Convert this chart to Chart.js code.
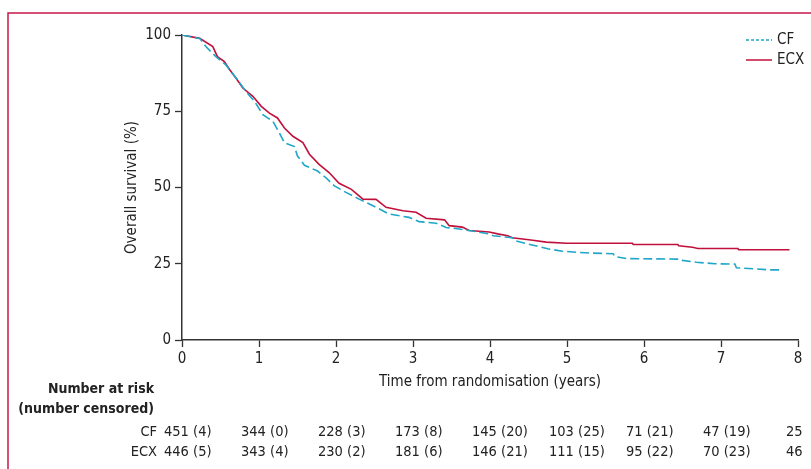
<!DOCTYPE html>
<html>
<head>
<meta charset="utf-8">
<script src="https://cdn.jsdelivr.net/npm/chart.js@4.4.1/dist/chart.umd.min.js"></script>
<style>
  html, body { margin: 0; padding: 0; background: #fff; }
  #wrap { position: relative; width: 811px; height: 469px; }
</style>
</head>
<body>
<div id="wrap"><canvas id="km-chart" width="811" height="469"></canvas></div>
<script>
// Kaplan-Meier curves (time in years, survival in %)
var cfTimes = [0, 0.23, 0.31, 0.44, 0.57, 0.72, 0.83, 0.94, 1.05, 1.18, 1.265, 1.33, 1.46, 1.50, 1.59, 1.76, 1.87, 1.98, 2.13, 2.30, 2.52, 2.69, 2.95, 3.08, 3.30, 3.43, 3.60, 3.73, 3.99, 4.04, 4.29, 4.32, 4.49, 4.75, 4.94, 5.29, 5.60, 5.62, 5.77, 6.48, 6.50, 6.68, 6.92, 7.18, 7.20, 7.63, 7.78];
var cfSurv  = [100, 98.9, 96.2, 92.9, 90.2, 85.3, 81.5, 78.3, 73.9, 71.7, 67.9, 64.7, 63.4, 60.3, 57.3, 55.4, 53.2, 50.5, 48.4, 46.2, 43.5, 41.3, 40.2, 38.8, 38.3, 36.9, 36.4, 35.9, 34.8, 34.2, 33.5, 32.6, 31.5, 29.9, 29.1, 28.5, 28.3, 27.4, 26.7, 26.5, 26.1, 25.5, 25.0, 24.9, 23.7, 23.0, 23.0];

var ecxTimes = [0, 0.23, 0.40, 0.46, 0.55, 0.62, 0.70, 0.79, 0.92, 1.03, 1.135, 1.24, 1.33, 1.44, 1.57, 1.655, 1.78, 1.91, 2.04, 2.20, 2.35, 2.52, 2.65, 2.87, 3.04, 3.17, 3.41, 3.47, 3.64, 3.73, 3.99, 4.10, 4.23, 4.29, 4.53, 4.73, 4.99, 5.85, 5.86, 6.44, 6.45, 6.63, 6.70, 7.22, 7.23, 7.89];
var ecxSurv  = [100, 98.9, 96.2, 92.9, 91.3, 88.6, 85.9, 82.6, 79.9, 76.6, 74.4, 72.8, 69.5, 66.8, 64.7, 60.9, 57.6, 54.9, 51.4, 49.4, 46.2, 46.1, 43.5, 42.4, 41.9, 39.9, 39.4, 37.5, 37.0, 35.9, 35.4, 34.8, 34.2, 33.5, 32.8, 32.1, 31.7, 31.7, 31.3, 31.3, 30.9, 30.4, 30.0, 30.0, 29.6, 29.6];

// Number at risk table
var riskYears = [0, 1, 2, 3, 4, 5, 6, 7, 8];
var cfRisk  = ['451 (4)', '344 (0)', '228 (3)', '173 (8)', '145 (20)', '103 (25)', '71 (21)', '47 (19)', '25'];
var ecxRisk = ['446 (5)', '343 (4)', '230 (2)', '181 (6)', '146 (21)', '111 (15)', '95 (22)', '70 (23)', '46'];

var xTicks = [0, 1, 2, 3, 4, 5, 6, 7, 8];
var yTicks = [0, 25, 50, 75, 100];

var CF_COLOR = '#1fa6c9';
var ECX_COLOR = '#c0103c';
var FONT = "'DejaVu Sans Condensed', 'Liberation Sans', sans-serif";

function toPoints(xs, ys) {
    return xs.map(function(x, i) { return { x: x, y: ys[i] }; });
}

// Draws the frame, legend and number-at-risk table
var extras = {
    id: 'extras',
    beforeDraw: function(chart) {
        var ctx = chart.ctx;
        ctx.save();
        ctx.strokeStyle = '#c8174a';
        ctx.lineWidth = 1.5;
        ctx.beginPath();
        ctx.moveTo(811, 13);
        ctx.lineTo(8, 13);
        ctx.lineTo(8, 469);
        ctx.stroke();
        ctx.restore();
    },
    afterDraw: function(chart) {
        var ctx = chart.ctx;
        var xs = chart.scales.x;
        ctx.save();

        // legend
        var items = [
            { label: 'CF', color: CF_COLOR, dash: [3, 2], y: 40 },
            { label: 'ECX', color: ECX_COLOR, dash: [], y: 60 }
        ];
        ctx.font = '15px ' + FONT;
        ctx.textBaseline = 'middle';
        ctx.textAlign = 'left';
        items.forEach(function(it) {
            ctx.strokeStyle = it.color;
            ctx.lineWidth = 1.5;
            ctx.setLineDash(it.dash);
            ctx.beginPath();
            ctx.moveTo(746, it.y);
            ctx.lineTo(772, it.y);
            ctx.stroke();
            ctx.setLineDash([]);
            ctx.fillStyle = '#222';
            ctx.fillText(it.label, 777, it.y);
        });

        // number at risk
        ctx.fillStyle = '#222';
        ctx.textAlign = 'right';
        ctx.font = 'bold 14px ' + FONT;
        ctx.fillText('Number at risk', 154, 389);
        ctx.fillText('(number censored)', 154, 409);
        ctx.font = '14.5px ' + FONT;
        ctx.fillText('CF', 157, 432);
        ctx.fillText('ECX', 157, 452);
        ctx.textAlign = 'left';
        riskYears.forEach(function(yr, i) {
            var px = xs.getPixelForValue(yr) - (yr === 8 ? 12 : 18);
            ctx.fillText(cfRisk[i], px, 432);
            ctx.fillText(ecxRisk[i], px, 452);
        });
        ctx.restore();
    }
};

var ctx = document.getElementById('km-chart').getContext('2d');
var kmChart = new Chart(ctx, {
    type: 'line',
    data: {
        datasets: [{
            label: 'CF',
            data: toPoints(cfTimes, cfSurv),
            borderColor: CF_COLOR,
            borderWidth: 1.6,
            borderDash: [9, 4],
            pointRadius: 0,
            fill: false,
            tension: 0
        }, {
            label: 'ECX',
            data: toPoints(ecxTimes, ecxSurv),
            borderColor: ECX_COLOR,
            borderWidth: 1.6,
            pointRadius: 0,
            fill: false,
            tension: 0
        }]
    },
    options: {
        responsive: false,
        animation: false,
        devicePixelRatio: 1,
        layout: { padding: { left: 119, right: 13, top: 35, bottom: 74 } },
        plugins: {
            legend: { display: false },
            tooltip: { enabled: false }
        },
        scales: {
            x: {
                type: 'linear',
                min: 0,
                max: 8,
                afterBuildTicks: function(scale) {
                    scale.ticks = xTicks.map(function(v) { return { value: v }; });
                },
                afterFit: function(scale) { scale.height = 55; },
                border: { display: true, color: '#333', width: 1.5 },
                grid: { drawOnChartArea: false, drawTicks: true, tickLength: 7, color: '#333', tickWidth: 1.3 },
                ticks: { color: '#222', padding: 3, maxRotation: 0, font: { family: FONT, size: 15 } },
                title: { display: true, text: 'Time from randomisation (years)', color: '#222', padding: { top: 0, bottom: 4 }, font: { family: FONT, size: 15 } }
            },
            y: {
                type: 'linear',
                min: 0,
                max: 100,
                afterBuildTicks: function(scale) {
                    scale.ticks = yTicks.map(function(v) { return { value: v }; });
                },
                afterFit: function(scale) { scale.width = 63; },
                border: { display: true, color: '#333', width: 1.5 },
                grid: { drawOnChartArea: false, drawTicks: true, tickLength: 7, color: '#333', tickWidth: 1.3 },
                ticks: { color: '#222', padding: 4, font: { family: FONT, size: 15 } },
                title: { display: true, text: 'Overall survival (%)', color: '#222', padding: { top: 4, bottom: 0 }, font: { family: FONT, size: 15 } }
            }
        }
    },
    plugins: [extras]
});
</script>
</body>
</html>
